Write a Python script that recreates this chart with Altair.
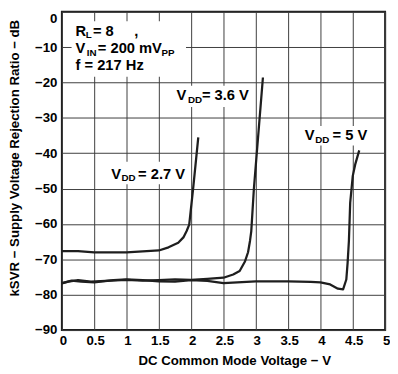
import altair as alt
import pandas as pd

# ---- curve data (DC common-mode voltage in V, kSVR in dB) ----
v27_x = [0, 0.25, 0.5, 1.0, 1.5, 1.65, 1.8, 1.88, 1.93, 1.97, 2.03, 2.11]
v27_y = [-67.7, -67.7, -68.0, -68.0, -67.5, -66.6, -65.3, -63.8, -62.0, -60.2, -50.1, -35.5]

v36_x = [0, 0.1, 0.25, 0.45, 0.75, 1.0, 1.25, 1.5, 1.75, 2.0, 2.25, 2.5, 2.65,
         2.75, 2.83, 2.88, 2.91, 2.93, 2.97, 3.11]
v36_y = [-76.8, -76.3, -75.9, -76.3, -76.0, -75.8, -76.0, -75.9, -75.7, -75.8, -75.5,
         -75.2, -74.3, -73.3, -70.7, -68.0, -64.8, -62.0, -50.1, -18.6]

v5_x = [0, 0.15, 0.3, 0.5, 0.8, 1.0, 1.25, 1.5, 1.75, 2.0, 2.25, 2.5, 3.0, 3.5,
        3.85, 4.0, 4.15, 4.27, 4.35, 4.40, 4.42, 4.44, 4.46, 4.5, 4.54, 4.6]
v5_y = [-76.7, -76.0, -76.3, -76.5, -75.9, -75.7, -75.9, -76.2, -76.3, -75.9, -76.1,
        -76.7, -76.2, -76.2, -76.4, -76.5, -77.1, -78.3, -78.5, -75.7, -71.0, -64.8,
        -54.0, -46.4, -43.0, -39.2]

# ---- axis ticks ----
x_ticks = [0, 0.5, 1, 1.5, 2, 2.5, 3, 3.5, 4, 4.5, 5]
y_ticks = [0, -10, -20, -30, -40, -50, -60, -70, -80, -90]

# ---- curve labels ----
ann_x = [0.762, 1.773, 3.758]
ann_y = [-47.2, -25.0, -36.4]
ann_rest = ["= 2.7 V", "= 3.6 V", "= 5 V"]

# ---- test-condition block ----
cond_x = 0.212
cond_y = [-6.86, -11.72, -16.47]

# ---- white label backgrounds (data units) ----
box_x1 = [0.15, 0.71, 1.71, 3.67]
box_x2 = [1.92, 1.92, 2.92, 4.77]
box_y1 = [-2.7, -42.4, -20.9, -32.3]
box_y2 = [-18.4, -48.8, -26.9, -37.8]

FONT = "Liberation Sans"
INK = "#1e1e1e"
GRID = "#3c3c3c"

rows = []
for name, xs, ys in [("2.7 V", v27_x, v27_y), ("3.6 V", v36_x, v36_y), ("5 V", v5_x, v5_y)]:
    for i, (a, b) in enumerate(zip(xs, ys)):
        rows.append({"series": name, "i": i, "v": a, "k": b})
curves = pd.DataFrame(rows)

xs_scale = alt.Scale(domain=[0, 5], nice=False)
ys_scale = alt.Scale(domain=[-90, 0], nice=False)

X_TITLE = "DC Common Mode Voltage \u2212 V"
Y_TITLE = "kSVR \u2212 Supply Voltage Rejection Ratio \u2212 dB"

x_axis = alt.Axis(
    values=x_ticks, format="~g", title=X_TITLE,
    grid=True, gridColor=GRID, gridWidth=1, tickSize=0, domain=False,
    labelFlush=False, labelOverlap=False, labelPadding=4, labelOffset=1,
    labelFont=FONT, labelFontSize=13.5, labelFontWeight="bold", labelColor="black",
    titleFont=FONT, titleFontSize=13.5, titleFontWeight="bold", titleColor="black",
    titleX=176, titleY=31.5, titleAlign="center", titleBaseline="middle",
)
y_axis = alt.Axis(
    values=y_ticks, format="d", title=Y_TITLE,
    grid=True, gridColor=GRID, gridWidth=1, tickSize=0, domain=False,
    labelFlush=False, labelOverlap=False, labelPadding=5,
    labelBaseline={"condition": {"test": "datum.value == 0", "value": "top"}, "value": "middle"},
    labelFont=FONT, labelFontSize=13.5, labelFontWeight="bold", labelColor="black",
    titleFont=FONT, titleFontSize=13.5, titleFontWeight="bold", titleColor="black",
    titleX=-48, titleY=149, titleAngle=270, titleAlign="center", titleBaseline="middle",
)


def ex(field):
    return alt.X(field, type="quantitative", scale=xs_scale, axis=x_axis, title=X_TITLE)


def ey(field):
    return alt.Y(field, type="quantitative", scale=ys_scale, axis=y_axis, title=Y_TITLE)


boxes_df = pd.DataFrame({"x1": box_x1, "x2": box_x2, "y1": box_y1, "y2": box_y2})
boxes = alt.Chart(boxes_df).mark_rect(color="white").encode(
    x=ex("x1"), x2="x2:Q", y=ey("y1"), y2="y2:Q",
)

lines = alt.Chart(curves).mark_line(color=INK, strokeWidth=2.3, strokeJoin="round").encode(
    x=ex("v"), y=ey("k"),
    detail="series:N",
    order="i:Q",
)

ann_df = pd.DataFrame({"x": ann_x, "y": ann_y, "rest": ann_rest,
                       "main": ["V"] * 3, "sub": ["DD"] * 3,
                       "dsub": [10.5, 11.7, 10.7], "drest": [27.5, 26.0, 28.3]})


def txt(df, field, dx, size=15, dy=0):
    return alt.Chart(df).mark_text(
        align="left", baseline="alphabetic", font=FONT, fontWeight="bold",
        fontSize=size, color="black", dx=dx, dy=dy,
    ).encode(x=ex("x"), y=ey("y"), text=f"{field}:N")


ann_layers = []
for i in range(len(ann_x)):
    one = ann_df.iloc[[i]]
    ann_layers.append(txt(one, "main", 0))
    ann_layers.append(txt(one, "sub", float(one["dsub"].iloc[0]), size=10, dy=2.5))
    ann_layers.append(txt(one, "rest", float(one["drest"].iloc[0])))

nb = "\u00a0"
c1 = pd.DataFrame({"x": [cond_x], "y": [cond_y[0]], "a": ["R"], "b": ["L"],
                   "c": ["= 8" + nb * 5 + ","]})
c2 = pd.DataFrame({"x": [cond_x], "y": [cond_y[1]], "a": ["V"], "b": ["IN"],
                   "c": ["= 200 mV"], "d": ["PP"]})
c3 = pd.DataFrame({"x": [cond_x], "y": [cond_y[2]], "a": ["f = 217 Hz"]})

cond_layers = [
    txt(c1, "a", 0), txt(c1, "b", 10.3, size=10, dy=2.5), txt(c1, "c", 17.7),
    txt(c2, "a", 0), txt(c2, "b", 11.5, size=10, dy=2.5), txt(c2, "c", 22.7),
    txt(c2, "d", 87.7, size=10, dy=2.5),
    txt(c3, "a", 0),
]

chart = alt.layer(boxes, lines, *ann_layers, *cond_layers).properties(
    width=330, height=325,
    autosize=alt.AutoSizeParams(type="none"),
    padding={"left": 55, "top": 0, "right": 5, "bottom": 40},
    background="white",
).configure_view(stroke=INK, strokeWidth=2).configure_axis(labelOverlap=False)

chart.save("out.html", embed_options={"renderer": "svg", "actions": False})
